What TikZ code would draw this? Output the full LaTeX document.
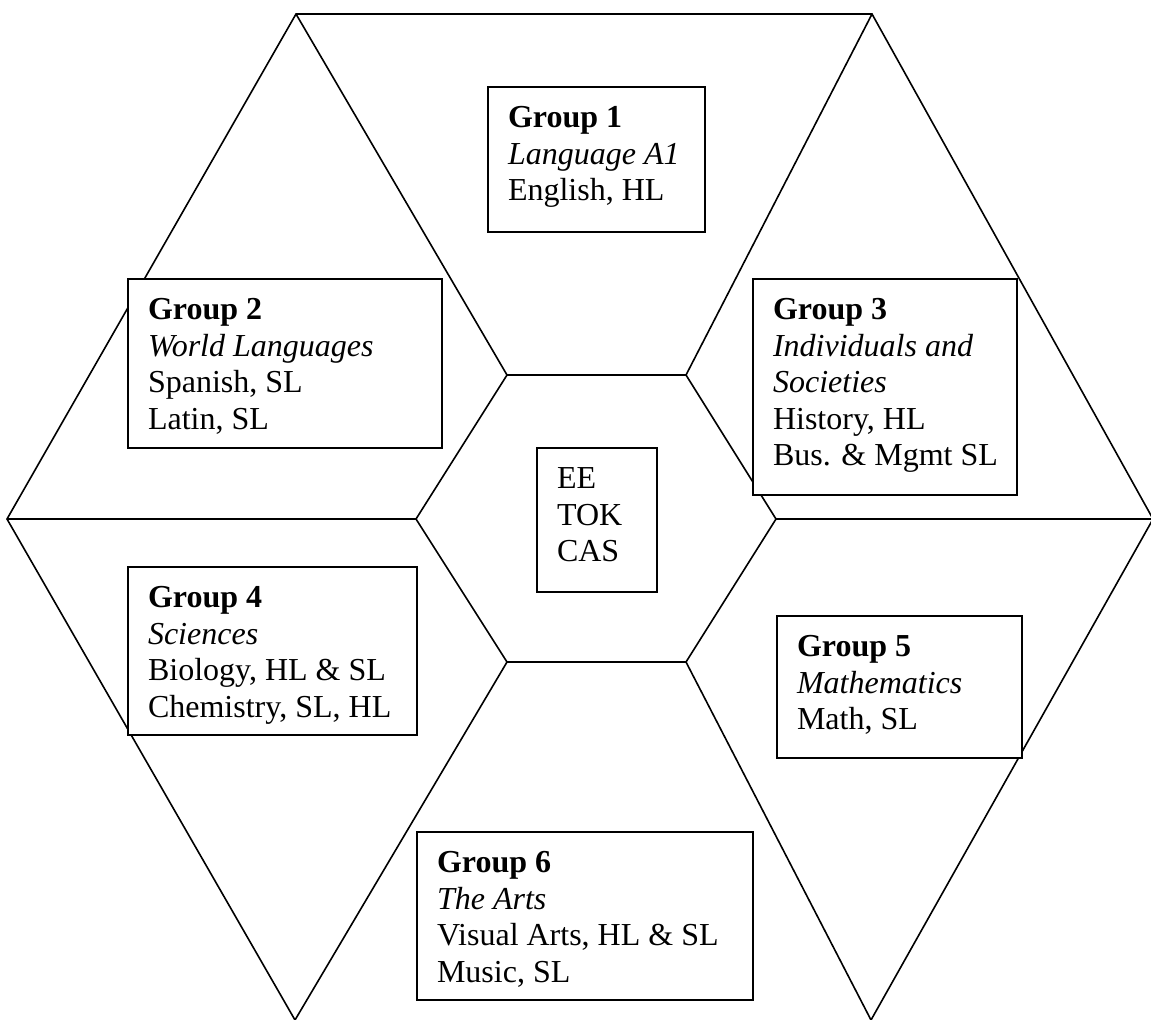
\documentclass[tikz,border=0pt]{standalone}
\usepackage{fontspec}
\setmainfont{Liberation Serif}
\newdimen\pxu
\pxu=.375pt
\tikzset{
	ib diagram/.style={
		x=\pxu, y=-\pxu,
		hex/.style={line width=.6pt, line join=miter},
		grp box/.style 2 args={
			draw, fill=white, line width=.8pt,
			anchor=north west, inner sep=0pt,
			minimum width=##1\pxu, minimum height=##2\pxu},
		grp text/.style={
			anchor=north west, inner sep=0pt, xshift=20.5\pxu,
			align=flush left, text width=300\pxu, text height=41\pxu,
			font=\fontsize{12}{13.7}\selectfont}
	}
}

\begin{document}
\begin{tikzpicture}[ib diagram]
	\useasboundingbox (0,0) rectangle (1151,1019);
	% outer and inner hexagon corners, clockwise from top left
	\coordinate (o1) at (296,14);
	\coordinate (o2) at (872,14);
	\coordinate (o3) at (1153,519);
	\coordinate (o4) at (871,1020);
	\coordinate (o5) at (295,1020);
	\coordinate (o6) at (7,519);
	\coordinate (i1) at (507,375);
	\coordinate (i2) at (686,375);
	\coordinate (i3) at (776,519);
	\coordinate (i4) at (686,662);
	\coordinate (i5) at (507,662);
	\coordinate (i6) at (416,519);
	\draw[hex] (o4) -- (o3) -- (o2) -- (o1) -- (o6) -- (o5);
	\draw[hex] (i1) -- (i2) -- (i3) -- (i4) -- (i5) -- (i6) -- cycle;
	\foreach \k in {1,...,6}
		\draw[hex] (i\k) -- (o\k);

	\node[grp box={217}{145}] (g1) at (487,86) {};
	\node[grp text] (g1t) at (g1.north west) {\textbf{Group 1}\\\textit{Language A1}\\English, HL};
	\node[grp box={314}{169}] (g2) at (127,278) {};
	\node[grp text] (g2t) at (g2.north west) {\textbf{Group 2}\\\textit{World Languages}\\Spanish, SL\\Latin, SL};
	\node[grp box={264}{216}] (g3) at (752,278) {};
	\node[grp text] (g3t) at (g3.north west) {\textbf{Group 3}\\\textit{Individuals and}\\\textit{Societies}\\History, HL\\Bus. \& Mgmt SL};
	\node[grp box={120}{144}] (core) at (536,447) {};
	\node[grp text] (coret) at (core.north west) {EE\\TOK\\CAS};
	\node[grp box={289}{168}] (g4) at (127,566) {};
	\node[grp text] (g4t) at (g4.north west) {\textbf{Group 4}\\\textit{Sciences}\\Biology, HL \& SL\\Chemistry, SL, HL};
	\node[grp box={245}{142}] (g5) at (776,615) {};
	\node[grp text] (g5t) at (g5.north west) {\textbf{Group 5}\\\textit{Mathematics}\\Math, SL};
	\node[grp box={336}{168}] (g6) at (416,831) {};
	\node[grp text] (g6t) at (g6.north west) {\textbf{Group 6}\\\textit{The Arts}\\Visual Arts, HL \& SL\\Music, SL};
\end{tikzpicture}
\end{document}
